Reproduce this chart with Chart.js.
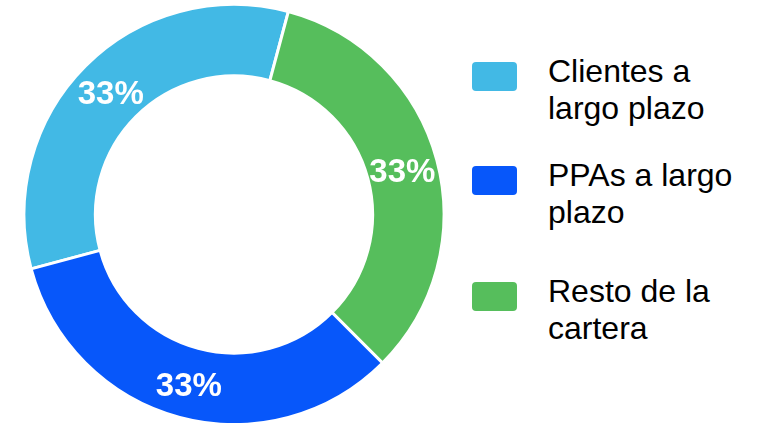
<!DOCTYPE html>
<html>
<head>
<meta charset="utf-8">
<script src="https://cdn.jsdelivr.net/npm/chart.js@4"></script>
<style>
	body{margin:0;background:#fff;width:758px;height:423px;overflow:hidden;position:relative}
	#chartBox{position:absolute;left:0;top:0;width:468px;height:426px}
	#legend{position:absolute;left:472px;top:0;font-family:"Liberation Sans",Arial,sans-serif;font-size:32px;line-height:37px;color:#000}
	.item{position:absolute;left:0;width:290px}
	.item:nth-child(1){top:53px}
	.item:nth-child(2){top:157px}
	.item:nth-child(3){top:273px}
	.swatch{position:absolute;left:0;top:9px;width:45px;height:29px;border-radius:4px}
	.txt{position:absolute;left:76px;top:0;white-space:nowrap}
</style>
</head>
<body>
<div id="chartBox"><canvas id="donut"></canvas></div>
<div id="legend"></div>
<script>
var categories=['Clientes a largo plazo','PPAs a largo plazo','Resto de la cartera']
var legendLines=[['Clientes a','largo plazo'],['PPAs a largo','plazo'],['Resto de la','cartera']]
var shares=[33,33,33]
var colors=['#42b9e5','#0757fa','#56be5c']
// slices run clockwise: Clientes, Resto, PPAs
var drawOrder=[0,2,1]

// white percentage text in the middle of each slice
const pctLabels={
	id:'pctLabels',
	afterDatasetsDraw:function(chart){
		var ctx=chart.ctx
		var meta=chart.getDatasetMeta(0)
		ctx.save()
		ctx.fillStyle='#fff'
		ctx.font='bold 33px "Liberation Sans", Arial, sans-serif'
		ctx.textAlign='center'
		ctx.textBaseline='middle'
		meta.data.forEach(function(arc,i){
			var p=arc.tooltipPosition()
			ctx.fillText(chart.data.datasets[0].data[i]+'%',p.x,p.y+4)
		})
		ctx.restore()
	}
}

new Chart(document.getElementById('donut'),{
	type:'doughnut',
	data:{
		labels:drawOrder.map(i=>categories[i]),
		datasets:[{
			data:drawOrder.map(i=>shares[i]),
			backgroundColor:drawOrder.map(i=>colors[i]),
			borderColor:'#fff',
			borderWidth:3
		}]
	},
	options:{
		responsive:true,
		maintainAspectRatio:false,
		animation:false,
		rotation:255,
		cutout:'66%',
		layout:{padding:{top:3,bottom:0,left:0,right:0}},
		plugins:{legend:{display:false},tooltip:{enabled:false}}
	},
	plugins:[pctLabels]
})

var legend=document.getElementById('legend')
categories.forEach(function(c,i){
	var item=document.createElement('div')
	item.className='item'
	var sw=document.createElement('div')
	sw.className='swatch'
	sw.style.background=colors[i]
	var t=document.createElement('div')
	t.className='txt'
	t.innerHTML=legendLines[i].join('<br>')
	item.appendChild(sw)
	item.appendChild(t)
	legend.appendChild(item)
})
</script>
</body>
</html>
